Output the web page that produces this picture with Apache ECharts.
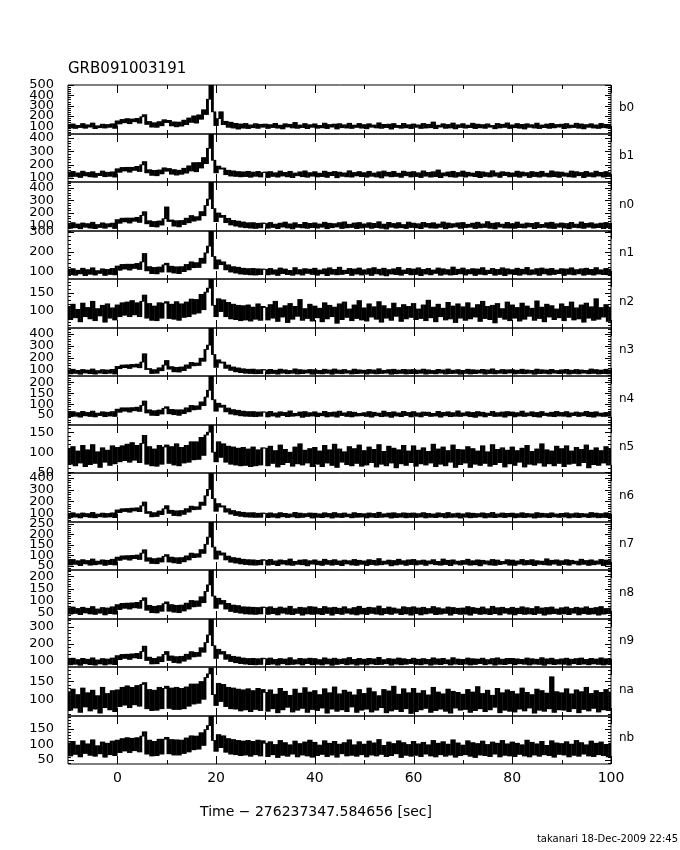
<!DOCTYPE html>
<html><head><meta charset="utf-8">
<script src="https://cdn.jsdelivr.net/npm/echarts@6/dist/echarts.min.js"></script>
<style>html,body{margin:0;padding:0;background:#fff}#c{width:680px;height:850px}</style>
</head><body><div id="c"></div>
<script>
// ---------- data ----------
const title = 'GRB091003191';
const xName = 'Time \u2212 276237347.584656 [sec]';
const footer = 'takanari 18-Dec-2009 22:45';
const detectorNames = ['b0','b1','n0','n1','n2','n3','n4','n5','n6','n7','n8','n9','na','nb'];
const yMin = [25,70,58,62,53,50,5,48,25,30,25,65,54,37];
const yMax = [500,430,445,303,187,450,228,168,440,258,226,344,189,192];
const yLabels = [
  [100,200,300,400,500],[100,200,300,400],[100,200,300,400],[100,200,300],[100,150],
  [100,200,300,400],[50,100,150,200],[50,100,150],[100,200,300,400],[50,100,150,200,250],
  [50,100,150,200],[100,200,300],[100,150],[50,100,150]];
const yMinorStep = [20,20,20,20,10,20,10,10,20,10,10,20,10,10];
const xTickLabels = [0,20,40,60,80,100];
const xMinorTicks = [10,30,50,70,90];
const T_START = -10, T_STEP = 0.5; // light-curve sample grid (s)

const b0 = [118,84,122,79,109,88,126,81,114,92,131,77,105,86,120,83,117,90,124,80,
152,123,166,134,174,125,170,144,176,130,192,212,118,146,92,134,90,145,105,163,
136,157,104,142,95,140,102,159,116,180,138,200,131,210,168,260,214,362,500,240,
107,174,240,116,148,90,139,83,128,73,122,82,127,78,113,86,125,80,119,91,
121,79,116,88,128,82,110,75,124,93,119,84,137,80,112,87,126,77,115,90,
123,81,108,85,130,78,117,92,121,74,125,86,114,83,129,79,111,89,127,82,
116,76,124,91,112,84,133,80,118,87,120,73,126,88,109,81,128,85,115,78,
122,90,113,79,127,83,119,86,141,77,110,92,124,80,117,84,131,75,114,88,
125,82,111,87,129,78,120,85,116,80,123,91,108,76,127,84,119,89,132,79,
113,86,126,81,118,74,124,90,115,83,130,78,112,87,121,80,128,85,117,92,
120,77,126,84,111,88,129,81,122,75,116,90,124,83,113,79,127,86,118,82,
115];
const b1 = [145,108,149,112,138,104,151,116,141,109,147,106,135,118,152,110,143,113,146,107,
169,143,179,153,180,144,180,157,187,149,199,223,139,162,120,157,117,160,131,176,
151,171,129,163,122,158,128,173,137,191,153,215,147,216,175,253,208,323,430,233,
139,189,167,175,125,158,115,153,112,148,109,146,111,150,106,144,113,149,108,141,
145,104,148,112,139,107,152,115,142,109,150,103,137,117,146,110,153,106,140,114,
147,108,136,111,151,105,143,118,149,102,144,113,138,109,154,107,141,116,148,110,
140,106,150,113,137,108,146,101,152,115,143,109,149,112,136,105,151,117,144,108,
148,111,139,104,153,114,142,107,147,110,160,103,138,116,145,109,150,106,141,113,
152,107,143,115,137,110,149,103,146,112,140,108,154,114,139,105,147,118,143,109,
138,112,151,106,145,116,140,104,148,111,143,107,150,113,136,108,153,110,146,105,
144,114,137,109,152,106,147,117,141,103,149,112,139,108,151,115,142,107,148,111,
140];
const n0 = [118,79,124,84,113,76,121,88,116,81,127,77,109,86,122,80,115,91,120,78,
148,119,159,130,160,121,160,135,166,126,181,210,115,139,93,133,90,137,105,155,
248,133,145,97,139,91,141,109,159,123,180,136,171,144,211,179,259,310,445,235,
132,200,166,181,124,158,106,142,97,136,89,129,84,123,81,124,78,119,83,121,
117,80,125,86,112,77,120,89,128,82,114,75,123,87,110,83,126,79,118,85,
122,81,113,88,127,76,119,84,116,90,124,78,130,83,111,86,121,77,125,82,
114,87,123,79,118,85,131,80,112,74,126,88,117,81,124,84,109,78,128,86,
120,83,115,77,126,89,118,82,123,80,113,87,129,76,121,84,116,90,122,79,
125,84,111,88,120,78,127,83,114,86,132,80,119,75,124,89,112,82,126,81,
116,79,128,85,113,82,121,90,118,77,125,84,110,87,123,80,127,78,115,88,
121,82,117,76,126,86,112,83,129,79,118,88,123,81,114,85,120,77,125,84,
118];
const n1 = [111,84,114,81,106,88,116,79,109,86,118,82,104,90,113,80,110,85,115,83,
127,106,135,112,136,107,136,115,140,110,148,190,103,124,89,120,88,122,97,133,
141,97,126,92,123,89,124,99,135,108,148,119,144,120,166,141,193,227,303,175,
113,158,134,148,108,133,97,124,92,121,87,116,85,114,83,115,82,113,84,112,
110,83,115,86,108,80,117,89,112,84,105,81,119,87,109,82,114,90,111,85,
116,81,107,88,113,79,118,86,110,83,121,85,106,89,115,80,112,87,117,82,
108,86,114,80,119,88,111,82,116,78,109,87,113,84,120,81,107,89,115,83,
112,85,118,79,110,87,115,83,107,90,117,81,113,86,109,82,122,84,111,88,
117,82,109,88,114,80,112,86,119,83,106,89,115,81,110,85,118,79,113,87,
109,84,116,81,111,87,120,83,108,86,114,80,117,88,112,82,115,85,107,89,
114,80,112,86,118,83,109,88,113,81,116,85,110,82,119,87,108,84,115,83,
111];
const n2 = [112,76,118,81,104,70,121,84,109,78,126,73,106,86,115,69,119,80,108,75,
116,84,122,88,124,84,128,89,122,84,126,143,80,120,74,113,73,122,80,121,
125,79,118,77,125,74,119,82,124,84,132,91,131,94,145,103,151,162,187,115,
84,133,98,130,84,123,78,118,76,115,73,114,75,116,72,110,77,119,74,112,
109,75,117,80,126,71,108,83,114,68,120,77,112,85,131,74,106,79,118,72,
113,81,107,70,122,78,115,84,110,66,119,76,124,82,105,73,116,79,128,75,
108,72,119,83,111,77,125,69,114,80,106,74,121,85,109,71,117,78,112,82,
120,76,105,79,116,73,129,81,110,70,118,84,107,75,123,78,113,68,119,80,
111,74,122,78,108,83,117,71,126,79,112,76,115,67,120,82,106,77,124,73,
116,80,109,72,121,77,113,85,107,74,127,79,110,70,118,83,114,76,105,81,
119,73,112,82,124,75,108,78,116,69,121,80,111,74,133,77,109,83,117,71,
110];
const n3 = [101,68,106,72,97,65,104,75,99,70,108,66,95,74,103,69,100,73,105,67,
130,111,141,120,143,113,146,125,149,119,166,235,104,112,71,103,73,118,94,141,
179,107,128,85,122,83,125,95,142,114,163,135,158,138,198,173,271,307,450,229,
122,185,158,166,114,141,97,125,85,117,78,110,73,106,71,107,69,102,70,104,
100,68,105,71,98,66,107,74,101,69,96,73,109,67,103,70,99,75,104,65,
102,71,97,68,106,73,100,65,108,72,99,69,104,74,95,67,107,70,101,73,
98,66,104,72,100,68,110,71,97,74,103,65,106,69,99,72,105,67,102,70,
104,69,99,73,107,66,101,71,96,68,105,74,100,67,108,70,98,72,103,65,
97,72,106,67,102,70,99,74,105,66,100,71,109,68,96,73,104,69,101,75,
103,67,98,71,106,69,100,73,97,65,107,70,102,72,99,68,105,74,96,70,
101,73,105,66,98,71,104,68,100,74,97,69,108,72,103,67,99,70,106,68,
100];
const n4 = [64,43,66,45,61,41,67,47,62,44,68,42,59,48,65,43,63,46,66,44,
77,63,83,68,83,64,84,70,86,67,94,114,60,74,49,70,48,73,55,81,
88,56,76,52,74,49,74,57,83,65,94,74,92,76,110,93,132,163,228,120,
68,104,86,95,65,82,55,75,51,72,47,68,45,66,44,66,43,64,45,65,
63,42,67,46,60,41,65,48,62,43,69,45,58,47,64,40,66,44,61,46,
65,43,59,47,67,42,62,45,64,41,68,48,60,44,66,42,63,46,58,47,
61,44,66,41,63,47,59,43,68,45,62,40,65,46,60,43,67,48,62,42,
66,45,60,42,64,48,63,44,58,46,67,41,62,47,65,43,61,45,69,44,
60,47,65,43,62,40,66,46,63,42,59,48,67,44,61,45,64,41,66,47,
64,42,61,46,68,44,60,47,65,43,62,41,66,48,59,45,63,43,67,46,
62,45,66,42,60,48,64,44,61,47,67,43,63,41,65,46,59,44,62,45,
63];
const n5 = [108,70,114,66,103,73,117,64,106,69,119,72,101,62,111,75,105,67,116,71,
112,76,116,79,120,75,124,80,117,74,122,142,70,114,66,108,65,117,70,113,
118,72,114,68,121,66,112,73,117,75,126,81,126,82,137,92,143,150,168,100,
76,126,87,121,75,115,70,113,68,110,66,112,67,108,64,113,66,106,68,111,
110,66,115,72,104,63,118,69,107,74,100,65,113,71,121,68,105,73,109,64,
112,70,103,64,117,73,106,67,120,62,108,75,101,69,114,66,109,72,118,65,
104,68,113,74,107,63,119,70,102,66,115,73,110,61,106,71,117,67,103,74,
116,65,105,71,111,68,102,73,120,64,108,70,113,66,104,75,118,62,107,69,
106,73,114,62,109,70,103,67,116,72,101,65,119,69,107,74,111,63,105,71,
113,67,104,75,110,63,117,70,102,68,108,73,121,65,106,71,103,66,115,72,
109,64,116,70,103,72,112,66,107,74,118,61,105,69,111,67,104,73,114,68,
108];
const n6 = [98,63,103,67,94,60,101,70,96,64,106,61,92,69,100,65,97,68,102,62,
127,105,137,114,139,108,142,119,145,113,162,194,98,113,69,104,72,118,88,137,
163,98,124,80,119,77,122,90,138,109,159,129,154,132,193,166,247,301,440,223,
116,181,152,162,109,137,92,122,80,113,73,107,68,103,66,104,64,99,65,101,
97,62,102,66,95,60,104,69,98,63,93,68,106,61,100,64,96,70,101,59,
99,65,94,62,103,68,97,59,105,66,96,63,101,69,92,61,104,65,98,67,
95,60,101,66,97,62,107,65,94,68,100,59,103,63,96,66,102,61,99,64,
101,63,96,67,104,60,98,65,93,62,102,68,97,61,105,64,95,66,100,59,
94,66,103,61,99,64,96,68,102,60,97,65,106,62,93,67,101,63,98,69,
100,61,95,65,103,63,97,67,94,59,104,64,99,66,96,62,102,68,93,64,
98,67,102,60,95,65,101,62,97,68,94,63,105,66,100,61,96,64,103,62,
97];
const n7 = [77,54,80,57,74,51,79,59,75,53,82,55,72,58,78,52,76,56,81,54,
91,76,97,81,98,77,99,84,101,80,110,126,72,88,61,84,60,87,68,95,
103,68,91,64,88,61,89,69,97,78,110,89,107,91,127,109,152,186,258,139,
82,120,101,111,78,96,67,89,63,86,59,81,56,79,54,78,53,76,55,79,
76,53,80,56,73,51,78,58,75,54,82,52,71,57,77,55,79,50,74,58,
78,55,72,52,81,57,75,53,79,56,73,51,77,59,74,54,80,52,76,57,
73,51,79,56,76,53,84,55,72,58,77,50,75,54,81,57,74,52,78,56,
80,54,74,57,77,52,73,59,79,55,71,53,82,56,76,51,78,58,72,54,
75,57,81,53,74,55,78,50,76,58,73,54,80,52,77,56,71,59,79,53,
77,52,73,58,80,54,75,56,79,51,74,57,72,55,83,53,76,58,78,52,
74,56,79,53,76,59,72,54,81,57,75,52,78,55,73,58,80,51,77,55,
75];
const n8 = [71,45,74,48,68,43,73,50,69,46,76,44,66,49,72,42,70,47,75,45,
84,64,89,69,90,66,91,71,93,69,101,112,61,81,51,77,50,80,57,88,
95,57,84,53,81,51,82,58,90,66,101,75,99,77,116,92,138,165,226,119,
69,110,86,101,66,89,56,82,52,80,49,75,46,74,45,73,44,72,46,74,
72,44,75,47,69,42,74,49,70,45,77,43,67,48,73,41,71,46,76,44,
74,46,68,43,76,48,71,41,73,47,69,44,75,49,67,45,72,42,77,46,
69,43,73,48,71,45,78,42,68,47,74,44,70,49,66,43,75,46,72,41,
75,47,70,42,73,46,68,49,76,43,71,45,67,48,74,41,72,47,69,44,
70,45,76,41,72,48,69,44,74,46,67,43,77,47,71,42,73,49,68,45,
73,42,69,47,75,44,71,46,68,43,76,48,70,41,72,45,74,47,66,44,
71,46,74,43,68,49,73,42,70,47,75,44,69,46,72,41,76,45,68,48,
70];
const n9 = [112,78,116,81,108,75,115,84,110,79,118,76,106,83,114,77,111,82,117,79,
131,108,138,115,139,109,141,118,144,114,155,186,103,122,83,115,84,124,96,138,
155,103,129,91,125,88,127,99,139,110,154,124,150,127,177,151,207,251,344,189,
115,168,140,155,110,137,97,127,90,123,85,117,82,114,79,115,78,113,80,116,
113,79,117,82,109,76,114,84,111,78,119,80,107,83,115,77,112,85,116,78,
114,81,108,77,118,83,111,75,116,80,110,84,113,78,120,82,109,76,115,81,
110,77,115,83,112,79,121,80,108,84,114,76,111,82,117,78,113,81,109,85,
116,80,110,78,114,83,109,76,118,81,112,79,115,84,107,77,119,82,111,79,
109,82,117,77,113,80,111,85,116,78,108,83,114,76,118,81,110,79,115,84,
115,78,112,84,109,81,117,77,113,82,110,80,119,75,112,83,116,79,108,82,
112,81,116,76,110,84,114,79,117,82,109,78,115,83,111,80,118,77,113,81,
112];
const na = [121,70,128,76,113,64,131,79,118,68,125,73,110,62,133,77,116,71,124,66,
126,80,133,84,137,77,133,85,138,81,141,146,74,127,69,125,70,133,74,130,
136,75,131,72,133,72,130,74,134,81,142,87,142,89,149,100,160,170,186,113,
83,144,94,141,80,133,74,131,73,128,68,126,71,129,66,124,72,130,69,127,
119,67,126,74,114,63,130,71,122,78,111,65,128,70,117,75,132,64,120,72,
124,69,113,76,129,62,118,73,134,67,115,71,125,66,120,79,112,64,127,70,
116,73,131,65,121,70,110,77,127,63,123,68,136,72,114,66,129,74,118,61,
130,66,117,71,124,75,112,64,133,69,120,73,115,67,128,62,122,76,119,70,
114,72,127,64,120,69,135,74,116,66,125,71,111,78,130,63,118,70,126,67,
122,65,115,73,131,68,119,76,113,62,128,70,124,67,117,74,162,64,121,71,
118,70,129,66,115,74,126,63,121,72,133,68,116,75,124,65,119,71,127,69,
120];
const nb = [105,63,110,68,98,60,112,71,102,65,115,62,96,70,108,59,104,67,111,64,
114,74,119,79,122,74,120,80,122,76,127,141,69,114,63,110,64,117,69,117,
123,70,116,66,115,66,114,71,121,76,128,83,127,85,138,97,148,161,192,113,
78,132,90,128,75,119,69,116,67,113,64,111,66,113,62,110,67,114,63,112,
104,61,109,67,100,58,113,65,106,62,99,69,111,60,103,66,108,63,114,59,
107,64,98,68,112,61,104,66,110,59,101,70,106,63,115,65,99,62,109,67,
101,60,111,66,105,63,116,68,97,61,108,64,103,70,112,58,106,65,100,62,
110,65,102,61,107,69,99,63,113,60,104,67,109,62,101,66,115,59,105,64,
98,67,112,62,106,58,103,66,111,64,100,61,108,69,104,60,113,65,102,63,
108,61,104,68,99,63,114,60,107,66,102,62,110,67,97,64,112,59,105,68,
103,66,109,60,101,65,113,62,106,69,99,63,111,61,104,67,108,64,100,60,
104];
const curves = [b0,b1,n0,n1,n2,n3,n4,n5,n6,n7,n8,n9,na,nb];

// ---------- layout ----------
const FONT = "'DejaVu Sans', sans-serif";
const L = 68, W = 543, TOP = 85, H = 48.5;

function stepValues(lo, hi, step, exclude) {
  const out = [];
  for (let v = Math.ceil(lo / step) * step; v <= hi; v += step) if (!exclude.includes(v)) out.push(v);
  return out;
}

// light curve: each interval between consecutive samples is filled between their values
function makeBandRenderer(k) {
  const vals = curves[k];
  return function (params, api) {
    const i = params.dataIndex;
    if (i >= vals.length - 1) return null;
    const t = api.value(0);
    const p0 = api.coord([t, vals[i]]);
    const p1 = api.coord([t + T_STEP, vals[i + 1]]);
    const yTop = Math.min(p0[1], p1[1]) - 0.4, yBot = Math.max(p0[1], p1[1]) + 0.4;
    return { type: 'rect', shape: { x: p0[0] - 0.2, y: yTop, width: p1[0] - p0[0] + 0.4, height: yBot - yTop },
      style: { fill: '#000' } };
  };
}

// tick/label kinds: 0 x-minor, 1 x-major, 2 y-minor, 3 y-major, 4 y-label
function makeFrameRenderer(k) {
  return function (params, api) {
    const v = api.value(0), t = api.value(1);
    const cs = params.coordSys;
    const ls = { stroke: '#000', lineWidth: 1 };
    if (t <= 1) {
      const x = Math.round(api.coord([v, yMin[k]])[0]) + 0.5;
      const len = t === 1 ? 8 : 4;
      return { type: 'group', children: [
        { type: 'line', shape: { x1: x, y1: cs.y, x2: x, y2: cs.y + len }, style: ls },
        { type: 'line', shape: { x1: x, y1: cs.y + cs.height, x2: x, y2: cs.y + cs.height - len }, style: ls }] };
    }
    const yPix = api.coord([-10, v])[1];
    if (t === 4) {
      return { type: 'text', style: { text: String(v), x: cs.x - 14, y: yPix, textAlign: 'right', align: 'right',
        textVerticalAlign: 'middle', verticalAlign: 'middle', font: '13px ' + FONT, fill: '#000' } };
    }
    const y = Math.round(yPix) + 0.5;
    const len = t === 3 ? 6 : 3;
    return { type: 'group', children: [
      { type: 'line', shape: { x1: cs.x, y1: y, x2: cs.x + len, y2: y }, style: ls },
      { type: 'line', shape: { x1: cs.x + cs.width, y1: y, x2: cs.x + cs.width - len, y2: y }, style: ls }] };
  };
}

const grids = [], xAxes = [], yAxes = [], series = [], graphics = [];
detectorNames.forEach((name, k) => {
  const top = Math.round(TOP + H * k), bot = Math.round(TOP + H * (k + 1));
  grids.push({ left: L, top: top, width: W, height: bot - top, show: true, borderColor: '#000',
    borderWidth: 1, backgroundColor: 'transparent', containLabel: false, outerBoundsMode: 'none' });
  const last = k === detectorNames.length - 1;
  xAxes.push({ type: 'value', gridIndex: k, min: -10, max: 100, position: 'bottom',
    axisLine: { show: false, onZero: false }, splitLine: { show: false }, axisTick: { show: false },
    axisLabel: last ? { show: true, customValues: xTickLabels, hideOverlap: false, fontSize: 14, color: '#000', margin: 7, fontFamily: FONT } : { show: false } });
  yAxes.push({ type: 'value', gridIndex: k, min: yMin[k], max: yMax[k], position: 'left',
    axisLine: { show: false, onZero: false }, splitLine: { show: false }, axisTick: { show: false },
    axisLabel: { show: false } });

  series.push({ type: 'custom', name: name, xAxisIndex: k, yAxisIndex: k, clip: true, silent: true, z: 2,
    renderItem: makeBandRenderer(k),
    data: curves[k].map((v, i) => [T_START + i * T_STEP, v]) });

  const majors = yLabels[k];
  const minors = stepValues(yMin[k], yMax[k], yMinorStep[k], majors);
  const frameData = []
    .concat(xMinorTicks.map(v => [v, 0]))
    .concat(xTickLabels.map(v => [v, 1]))
    .concat(minors.map(v => [v, 2]))
    .concat(majors.map(v => [v, 3]))
    .concat(majors.map(v => [v, 4]));
  series.push({ type: 'custom', xAxisIndex: k, yAxisIndex: k, clip: false, z: 5, silent: true,
    renderItem: makeFrameRenderer(k), data: frameData });

  graphics.push({ type: 'text', x: 619, y: (top + bot) / 2 - 2,
    style: { text: name, fill: '#000', font: '12px ' + FONT, textVerticalAlign: 'middle', verticalAlign: 'middle' } });
});

graphics.push({ type: 'text', x: 68, y: 69,
  style: { text: title, fill: '#000', font: '15px ' + FONT, textVerticalAlign: 'middle', verticalAlign: 'middle' } });
graphics.push({ type: 'text', x: 316, y: 812,
  style: { text: xName, fill: '#000', font: '14px ' + FONT, textAlign: 'center', align: 'center', textVerticalAlign: 'middle', verticalAlign: 'middle' } });
graphics.push({ type: 'text', x: 678, y: 839,
  style: { text: footer, fill: '#000', font: '10px ' + FONT, textAlign: 'right', align: 'right', textVerticalAlign: 'middle', verticalAlign: 'middle' } });

const chart = echarts.init(document.getElementById('c'), null, { renderer: 'canvas' });
chart.setOption({
  animation: false,
  backgroundColor: '#fff',
  grid: grids, xAxis: xAxes, yAxis: yAxes, series: series, graphic: graphics
});
</script></body></html>
